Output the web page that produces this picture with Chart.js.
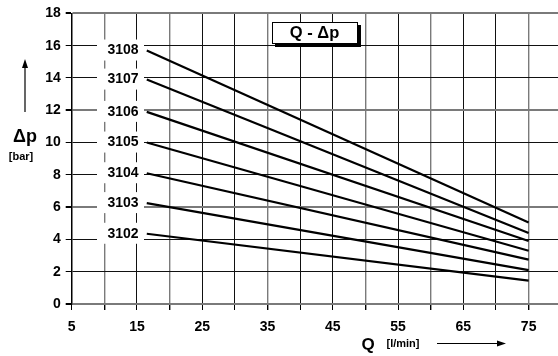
<!DOCTYPE html>
<html lang="en">
<head>
    <meta charset="UTF-8">
    <title>Q - Δp</title>
    <script src="https://cdn.jsdelivr.net/npm/chart.js@4.4.1/dist/chart.umd.min.js"></script>
    <style>
        body { margin: 0; background: #fff; }
        #wrap { width: 558px; height: 356px; }
    </style>
</head>
<body>
    <div id="wrap"><canvas id="myChart" width="558" height="356"></canvas></div>

    <script>
        // Q [l/min] at start and end of each curve
        const qValues = [16.5, 75]
        const seriesNames = ['3108', '3107', '3106', '3105', '3104', '3103', '3102']
        const dp3108 = [15.7, 5.05]
        const dp3107 = [13.9, 4.4]
        const dp3106 = [11.9, 3.9]
        const dp3105 = [10.0, 3.3]
        const dp3104 = [8.1, 2.75]
        const dp3103 = [6.25, 2.1]
        const dp3102 = [4.35, 1.45]
        const seriesValues = [dp3108, dp3107, dp3106, dp3105, dp3104, dp3103, dp3102]
        const xTickLabels = [5, 15, 25, 35, 45, 55, 65, 75]

        const FONT = '"Liberation Sans", Arial, sans-serif'
        const grayY = [0, 6, 12, 18]
        const grayX = [10, 20, 35, 50, 60, 75]

        const datasets = seriesNames.map((name, i) => ({
            label: name,
            data: qValues.map((q, j) => ({ x: q, y: seriesValues[i][j] })),
            borderColor: '#000',
            borderWidth: 2.2,
            pointRadius: 0,
            fill: false
        }))

        const decor = {
            id: 'decor',
            afterDatasetsDraw(chart) {
                const ctx = chart.ctx
                const ys = chart.scales.y
                ctx.save()
                // curve labels on white boxes
                ctx.font = 'bold 14px ' + FONT
                ctx.textAlign = 'center'
                ctx.textBaseline = 'middle'
                seriesNames.forEach((name, i) => {
                    const yp = ys.getPixelForValue(seriesValues[i][0])
                    ctx.fillStyle = '#fff'
                    ctx.fillRect(97, yp - 11, 47, 21)
                    ctx.fillStyle = '#000'
                    ctx.fillText(name, 123, yp)
                })

                // legend box
                ctx.fillStyle = '#000'
                ctx.fillRect(275, 25, 86, 22)
                ctx.fillStyle = '#fff'
                ctx.fillRect(272, 22, 86, 22)
                ctx.strokeStyle = '#000'
                ctx.lineWidth = 1
                ctx.strokeRect(272.5, 22.5, 85, 21)
                ctx.fillStyle = '#000'
                ctx.font = 'bold 16.5px ' + FONT
                ctx.fillText('Q - Δp', 314.5, 33.5)

                // y axis title + arrow
                ctx.font = 'bold 18px ' + FONT
                ctx.fillText('Δp', 25, 137)
                ctx.font = 'bold 11px ' + FONT
                ctx.fillText('[bar]', 21, 157)
                ctx.beginPath()
                ctx.moveTo(25, 112); ctx.lineTo(25, 66)
                ctx.lineWidth = 1.2
                ctx.stroke()
                ctx.beginPath()
                ctx.moveTo(25, 59); ctx.lineTo(22, 68); ctx.lineTo(28, 68); ctx.closePath()
                ctx.fill()

                // x axis title + arrow
                ctx.font = 'bold 17px ' + FONT
                ctx.fillText('Q', 368, 345)
                ctx.font = 'bold 11px ' + FONT
                ctx.fillText('[l/min]', 403, 344)
                ctx.beginPath()
                ctx.moveTo(437, 343.5); ctx.lineTo(498, 343.5)
                ctx.stroke()
                ctx.beginPath()
                ctx.moveTo(506, 343.5); ctx.lineTo(497, 340.5); ctx.lineTo(497, 346.5); ctx.closePath()
                ctx.fill()
                ctx.restore()
            }
        }

        new Chart(document.getElementById('myChart'), {
            type: 'line',
            data: { datasets: datasets },
            plugins: [decor],
            options: {
                responsive: false,
                animation: false,
                layout: { padding: { top: 13, right: 0, left: 0, bottom: 0 } },
                plugins: { legend: { display: false }, tooltip: { enabled: false } },
                scales: {
                    x: {
                        type: 'linear',
                        min: 5,
                        max: 79.5,
                        afterBuildTicks: axis => {
                            axis.ticks = []
                            for (let v = 5; v <= 75; v += 5) axis.ticks.push({ value: v })
                        },
                        afterFit: axis => { axis.height = 52 },
                        ticks: {
                            autoSkip: false,
                            maxRotation: 0,
                            padding: 9,
                            color: '#000',
                            font: { family: FONT, size: 14, weight: 'bold' },
                            callback: v => xTickLabels.includes(v) ? String(v) : ''
                        },
                        grid: {
                            color: c => grayX.includes(c.tick && c.tick.value) ? '#7a7a7a' : '#111',
                            lineWidth: c => grayX.includes(c.tick && c.tick.value) ? 1.4 : 1,
                            tickLength: 6,
                            tickColor: '#000'
                        },
                        border: { display: false }
                    },
                    y: {
                        min: 0,
                        max: 18,
                        afterFit: axis => { axis.width = 71.7 },
                        ticks: {
                            stepSize: 2,
                            padding: 5,
                            color: '#000',
                            font: { family: FONT, size: 14, weight: 'bold' }
                        },
                        grid: {
                            color: c => grayY.includes(c.tick && c.tick.value) ? '#7a7a7a' : '#111',
                            lineWidth: c => grayY.includes(c.tick && c.tick.value) ? 2 : 1,
                            tickLength: 6,
                            tickColor: '#000'
                        },
                        border: { color: '#000', width: 1.5 }
                    }
                }
            }
        });
    </script>
</body>
</html>
